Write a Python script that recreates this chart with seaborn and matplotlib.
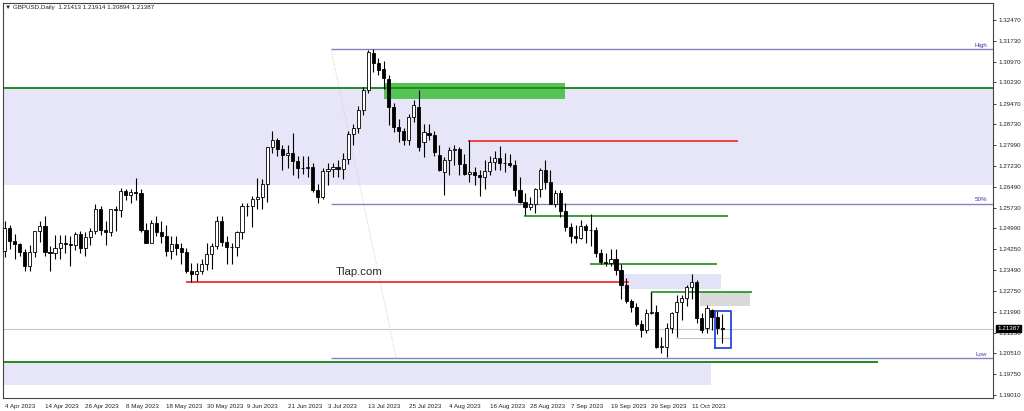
"""
GBPUSD daily candles, Apr-Oct 2023, MT4 look with zones and levels.
"""
import numpy as np
import pandas as pd
import matplotlib
matplotlib.use("Agg")
import matplotlib.pyplot as plt
import seaborn as sns

# --- data: one bar per weekday, 4 Apr 2023 .. 19 Oct 2023 ---
dates = pd.bdate_range("2023-04-04", "2023-10-19")

opens = [
    1.2418, 1.2500, 1.2455, 1.2443, 1.2415, 1.2363, 1.2415, 1.2488, 1.2509, 1.2413,
    1.2410, 1.2430, 1.2447, 1.2442, 1.2441, 1.2479, 1.2429, 1.2469, 1.2490, 1.2567,
    1.2493, 1.2487, 1.2569, 1.2566, 1.2633, 1.2618, 1.2630, 1.2625, 1.2495, 1.2448,
    1.2518, 1.2485, 1.2472, 1.2418, 1.2443, 1.2428, 1.2414, 1.2345, 1.2336, 1.2346,
    1.2372, 1.2408, 1.2435, 1.2525, 1.2449, 1.2432, 1.2431, 1.2485, 1.2580, 1.2578,
    1.2605, 1.2610, 1.2660, 1.2790, 1.2818, 1.2784, 1.2763, 1.2769, 1.2740, 1.2714,
    1.2715, 1.2720, 1.2635, 1.2610, 1.2705, 1.2712, 1.2720, 1.2712, 1.2748, 1.2838,
    1.2858, 1.2924, 1.2996, 1.3128, 1.3093, 1.3071, 1.3035, 1.2935, 1.2863, 1.2849,
    1.2816, 1.2899, 1.2935, 1.2809, 1.2840, 1.2834, 1.2762, 1.2701, 1.2744, 1.2780,
    1.2785, 1.2730, 1.2695, 1.2700, 1.2690, 1.2685, 1.2705, 1.2737, 1.2752, 1.2735,
    1.2733, 1.2725, 1.2638, 1.2595, 1.2575, 1.2585, 1.2640, 1.2708, 1.2665, 1.2585,
    1.2625, 1.2563, 1.2505, 1.2470, 1.2465, 1.2507, 1.2493, 1.2495, 1.2410, 1.2380,
    1.2373, 1.2390, 1.2350, 1.2295, 1.2240, 1.2218, 1.2157, 1.2134, 1.2194, 1.2200,
    1.2073, 1.2073, 1.2140, 1.2198, 1.2235, 1.2250, 1.2290, 1.2306, 1.2177, 1.2141,
    1.2205, 1.2182, 1.21413,
]
highs = [
    1.2525, 1.2510, 1.2480, 1.2445, 1.2425, 1.2440, 1.2490, 1.2525, 1.2545, 1.2435,
    1.2475, 1.2475, 1.2475, 1.2470, 1.2485, 1.2490, 1.2485, 1.2500, 1.2585, 1.2580,
    1.2525, 1.2570, 1.2580, 1.2645, 1.2640, 1.2640, 1.2680, 1.2640, 1.2520, 1.2530,
    1.2545, 1.2525, 1.2510, 1.2470, 1.2470, 1.2445, 1.2430, 1.2375, 1.2375, 1.2390,
    1.2445, 1.2445, 1.2545, 1.2545, 1.2470, 1.2445, 1.2490, 1.2590, 1.2590, 1.2615,
    1.2680, 1.2675, 1.2790, 1.2848, 1.2825, 1.2800, 1.2800, 1.2840, 1.2760, 1.2760,
    1.2760, 1.2735, 1.2660, 1.2715, 1.2735, 1.2735, 1.2745, 1.2770, 1.2848, 1.2875,
    1.2940, 1.3005, 1.3140, 1.3144, 1.3110, 1.3100, 1.3050, 1.2950, 1.2890, 1.2860,
    1.2910, 1.2960, 1.2996, 1.2875, 1.2875, 1.2850, 1.2800, 1.2755, 1.2790, 1.2800,
    1.2790, 1.2765, 1.2818, 1.2720, 1.2710, 1.2745, 1.2760, 1.2775, 1.2795, 1.2770,
    1.2765, 1.2745, 1.2685, 1.2625, 1.2610, 1.2645, 1.2715, 1.2745, 1.2710, 1.2635,
    1.2635, 1.2590, 1.2520, 1.2510, 1.2530, 1.2515, 1.2550, 1.2505, 1.2425, 1.2410,
    1.2425, 1.2425, 1.2370, 1.2320, 1.2245, 1.2230, 1.2170, 1.2210, 1.2270, 1.2225,
    1.2110, 1.2160, 1.2200, 1.2260, 1.2260, 1.2295, 1.2337, 1.2315, 1.2195, 1.2225,
    1.2210, 1.2205, 1.21914,
]
lows = [
    1.2395, 1.2425, 1.2390, 1.2400, 1.2345, 1.2345, 1.2395, 1.2450, 1.2400, 1.2345,
    1.2390, 1.2390, 1.2410, 1.2365, 1.2420, 1.2410, 1.2400, 1.2440, 1.2480, 1.2475,
    1.2440, 1.2470, 1.2490, 1.2540, 1.2600, 1.2590, 1.2600, 1.2485, 1.2445, 1.2445,
    1.2470, 1.2445, 1.2400, 1.2390, 1.2405, 1.2370, 1.2340, 1.2308, 1.2310, 1.2335,
    1.2350, 1.2355, 1.2425, 1.2435, 1.2370, 1.2370, 1.2400, 1.2460, 1.2545, 1.2505,
    1.2570, 1.2570, 1.2595, 1.2770, 1.2760, 1.2710, 1.2715, 1.2690, 1.2680, 1.2695,
    1.2685, 1.2630, 1.2590, 1.2605, 1.2655, 1.2685, 1.2685, 1.2675, 1.2730, 1.2800,
    1.2840, 1.2905, 1.2985, 1.3060, 1.3050, 1.3000, 1.2870, 1.2845, 1.2810, 1.2800,
    1.2800, 1.2880, 1.2775, 1.2755, 1.2815, 1.2760, 1.2705, 1.2620, 1.2690, 1.2725,
    1.2690, 1.2690, 1.2665, 1.2655, 1.2615, 1.2640, 1.2690, 1.2710, 1.2710, 1.2700,
    1.2720, 1.2615, 1.2590, 1.2548, 1.2565, 1.2555, 1.2610, 1.2640, 1.2585, 1.2575,
    1.2540, 1.2490, 1.2445, 1.2445, 1.2460, 1.2445, 1.2435, 1.2395, 1.2370, 1.2365,
    1.2365, 1.2330, 1.2245, 1.2230, 1.2200, 1.2150, 1.2110, 1.2125, 1.2190, 1.2070,
    1.2050, 1.2037, 1.2125, 1.2110, 1.2170, 1.2220, 1.2245, 1.2160, 1.2125, 1.2125,
    1.2135, 1.2120, 1.20894,
]
closes = [
    1.2500, 1.2455, 1.2443, 1.2415, 1.2363, 1.2415, 1.2488, 1.2509, 1.2413, 1.2410,
    1.2430, 1.2447, 1.2442, 1.2441, 1.2479, 1.2429, 1.2469, 1.2490, 1.2567, 1.2493,
    1.2487, 1.2569, 1.2566, 1.2633, 1.2618, 1.2630, 1.2625, 1.2495, 1.2448, 1.2518,
    1.2485, 1.2472, 1.2418, 1.2443, 1.2428, 1.2414, 1.2345, 1.2336, 1.2346, 1.2372,
    1.2408, 1.2435, 1.2525, 1.2449, 1.2432, 1.2431, 1.2485, 1.2580, 1.2578, 1.2605,
    1.2610, 1.2660, 1.2790, 1.2818, 1.2784, 1.2763, 1.2769, 1.2740, 1.2714, 1.2715,
    1.2720, 1.2635, 1.2610, 1.2705, 1.2712, 1.2720, 1.2712, 1.2748, 1.2838, 1.2858,
    1.2924, 1.2996, 1.3132, 1.3093, 1.3067, 1.3039, 1.2935, 1.2863, 1.2849, 1.2816,
    1.2899, 1.2942, 1.2791, 1.2845, 1.2835, 1.2773, 1.2708, 1.2744, 1.2780, 1.2785,
    1.2730, 1.2695, 1.2700, 1.2690, 1.2685, 1.2705, 1.2737, 1.2752, 1.2735, 1.2733,
    1.2725, 1.2638, 1.2595, 1.2575, 1.2585, 1.2640, 1.2708, 1.2665, 1.2585, 1.2625,
    1.2563, 1.2505, 1.2470, 1.2465, 1.2507, 1.2493, 1.2495, 1.2410, 1.2380, 1.2373,
    1.2390, 1.2350, 1.2295, 1.2240, 1.2218, 1.2157, 1.2134, 1.2194, 1.2200, 1.2073,
    1.2078, 1.2140, 1.2195, 1.2235, 1.2250, 1.2290, 1.2306, 1.2177, 1.2134, 1.2213,
    1.2182, 1.2141, 1.21387,
]

ytick_values = [1.32470, 1.31730, 1.30970, 1.30230, 1.29470, 1.28730, 1.27990,
                1.27230, 1.26490, 1.25730, 1.24990, 1.24250, 1.23490, 1.22750,
                1.21990, 1.21250, 1.20510, 1.19750, 1.19010]
xtick_every = 8
header = "\u25bc GBPUSD,Daily  1.21413 1.21914 1.20894 1.21387"

# levels drawn on the chart (price)
fib_high, fib_mid, fib_low = 1.3143, 1.2588, 1.2034
zone_top = (1.3003, 1.2655)        # wide lavender zone
zone_bottom = (1.2019, 1.1936)     # lower lavender zone
green_box = (1.3021, 1.2963)
red_levels = [(1.2306, 36.0, 123.5), (1.2813, 91.7, 145.1)]
green_levels = [(1.2543, 102.8, 143.1), (1.2371, 115.8, 140.9), (1.2271, 127.9, 148.0)]

df = pd.DataFrame({"date": dates, "open": opens, "high": highs,
                   "low": lows, "close": closes})
df["i"] = np.arange(len(df))
df["up"] = df["close"] >= df["open"]

sns.set_theme(style="white")
plt.rcParams["font.family"] = ["Liberation Sans", "DejaVu Sans"]
small = 4.5

fig = plt.figure(figsize=(10.24, 4.11), dpi=100)
ax = fig.add_axes([3 / 1024, 13 / 411, 990 / 1024, 395 / 411])
ax.set_xlim(-0.3, 195.6)
ax.set_ylim(1.18902, 1.33080)
xmax = 195.6

# zones
ax.fill_between([-1, xmax], zone_top[1], zone_top[0], color="#e6e6f8", lw=0, zorder=0)
ax.fill_between([-1, 139.7], zone_bottom[1], zone_bottom[0], color="#e6e6f8", lw=0, zorder=0)
ax.fill_between([121.9, 141.7], 1.2281, 1.2335, color="#e3e3f7", lw=0, zorder=0)
ax.fill_between([137.7, 147.6], 1.2220, 1.2270, color="#d9d9d9", lw=0, zorder=0)
ax.fill_between([75.1, 110.9], green_box[1], green_box[0], color="#55c455", lw=0, zorder=0.5)

# lines
ax.axhline(zone_top[0], color="#1e8c1e", lw=1.4, zorder=1)
ax.hlines(zone_bottom[0], -1, 172.9, color="#1e8c1e", lw=1.4, zorder=1)
for lvl in (fib_high, fib_mid, fib_low):
    ax.hlines(lvl, 64.6, xmax, color="#8484c4", lw=1.0, zorder=1)
for price, x0, x1 in red_levels:
    ax.hlines(price, x0, x1, color="#f04040", lw=1.4, zorder=1)
for price, x0, x1 in green_levels:
    ax.hlines(price, x0, x1, color="#1e8c1e", lw=1.2, zorder=1)
ax.vlines(127.9, 1.2195, 1.2271, color="#1e8c1e", lw=1.0, zorder=1)
ax.axhline(closes[-1], color="#c8c8c8", lw=0.8, zorder=1)
ax.hlines(1.2105, 132.8, 143.7, color="#c8c8c8", lw=0.8, zorder=1)
ax.plot([64.6, 77.5], [fib_high, fib_low], color="#f2b8b8", lw=0.7, ls=":", zorder=0.8)

# blue box around the last bar
ax.plot([140.5, 143.7, 143.7, 140.5, 140.5],
        [1.2069, 1.2069, 1.2202, 1.2202, 1.2069], color="#2a45e0", lw=1.3, zorder=4)

# candles
ax.vlines(df["i"], df["low"], df["high"], color="black", lw=0.8, zorder=2)
body_h = (df["close"] - df["open"]).abs().clip(lower=0.00006)
body_b = df[["open", "close"]].min(axis=1)
ax.bar(df["i"], body_h, bottom=body_b, width=0.62,
       color=np.where(df["up"], "white", "black"), edgecolor="black",
       lw=0.6, zorder=3)

# labels on the fib lines
for lvl, txt in ((fib_high, "High"), (fib_mid, "50%"), (fib_low, "Low")):
    ax.text(194.5, lvl + 0.0004, txt, fontsize=small, color="#3c3ca0",
            ha="right", va="bottom")
ax.text(65.6, 1.2342, "Tlap.com", fontsize=8.2, color="#2b2b2b", va="center")

# axes look
ax.yaxis.tick_right()
ax.set_yticks(ytick_values)
ax.set_yticklabels([f"{v:.5f}" for v in ytick_values])
tick_idx = df["i"][::xtick_every]
ax.set_xticks(tick_idx)
ax.set_xticklabels([d.strftime("%-d %b %Y") for d in df["date"][::xtick_every]],
                   ha="left")
ax.tick_params(axis="both", labelsize=small, colors="#222222", length=2.5,
               width=0.6, pad=1.5, direction="out")
ax.tick_params(axis="x", pad=1.5)
for s in ax.spines.values():
    s.set_color("#444444")
    s.set_linewidth(0.8)
ax.grid(False)
ax.set_xlabel("")
ax.set_ylabel("")

# current price tag on the right scale
ax.annotate(f"{closes[-1]:.5f}", xy=(1.0, closes[-1]),
            xycoords=("axes fraction", "data"), xytext=(3, 0),
            textcoords="offset points", fontsize=small, color="white",
            va="center", ha="left",
            bbox=dict(boxstyle="square,pad=0.15", fc="black", ec="black"))

fig.text(5 / 1024, 1 - 8 / 411, header, fontsize=small, color="#222222",
         ha="left", va="center")

fig.savefig("out.png", dpi=100)
plt.close(fig)
